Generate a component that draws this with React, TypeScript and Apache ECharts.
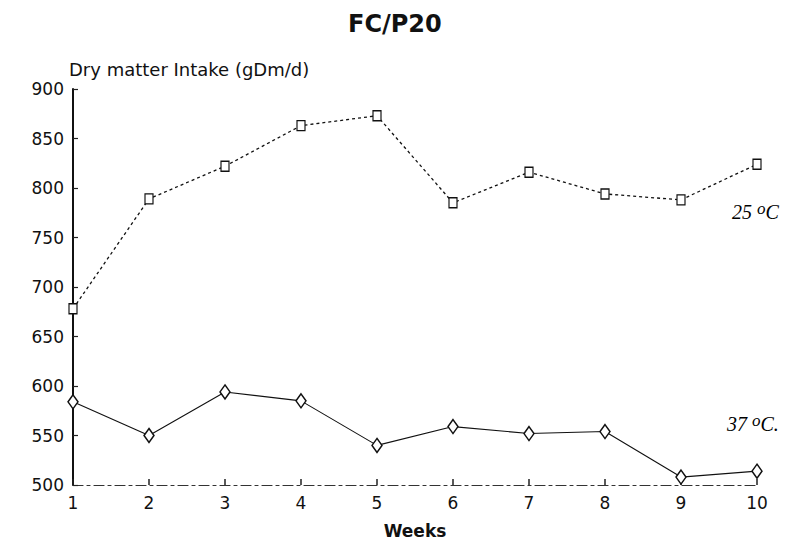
import React, { useEffect, useRef } from "react";
import * as echarts from "echarts";

const weeks = ["1", "2", "3", "4", "5", "6", "7", "8", "9", "10"];
const intake25 = [678, 789, 822, 863, 873, 785, 816, 794, 788, 824];
const intake37 = [584, 550, 594, 585, 540, 559, 552, 554, 508, 514];
const yTicks = { min: 500, max: 900, interval: 50 };

export default function App() {
  const ref = useRef<HTMLDivElement>(null);
  useEffect(() => {
    if (!ref.current) return;
    const chart = echarts.init(ref.current, null, { renderer: "svg" });
    const labelRich = {
      a: { font: "italic 20px 'Liberation Serif', serif", color: "#111" },
      s: { font: "italic 17px 'Liberation Serif', serif", color: "#111", verticalAlign: "top", padding: [0, 0, 6, 0] },
    };
    chart.setOption({
      animation: false,
      backgroundColor: "#fff",
      textStyle: { fontFamily: "DejaVu Sans, sans-serif" },
      title: {
        text: "FC/P20",
        left: 343,
        top: 7,
        textStyle: { fontSize: 24, fontWeight: "bold", color: "#111", fontFamily: "DejaVu Sans, sans-serif" },
      },
      grid: { left: 73, right: 47, top: 89, bottom: 61 },
      xAxis: {
        type: "category",
        data: weeks,
        boundaryGap: false,
        name: "Weeks",
        nameLocation: "middle",
        nameGap: 37,
        nameTextStyle: { fontSize: 17, color: "#111", fontWeight: 600 },
        axisLine: { lineStyle: { color: "#333", width: 1.2, type: [10, 4, 3, 4] } },
        axisTick: { inside: true, length: 6, lineStyle: { color: "#222", width: 1.5 } },
        axisLabel: { fontSize: 17, color: "#111", margin: 9 },
        splitLine: { show: false },
      },
      yAxis: {
        type: "value",
        min: yTicks.min,
        max: yTicks.max,
        interval: yTicks.interval,
        name: "Dry matter Intake (gDm/d)",
        nameLocation: "end",
        nameGap: 11,
        nameTextStyle: { fontSize: 18, color: "#111", align: "left", padding: [0, 0, 0, -4] },
        axisLine: { show: true, lineStyle: { color: "#111", width: 2 } },
        axisTick: { show: true, inside: true, length: 5, lineStyle: { color: "#222", width: 1.2 } },
        axisLabel: { fontSize: 17, color: "#111", margin: 9 },
        splitLine: { show: false },
      },
      series: [
        {
          name: "25 oC",
          type: "line",
          data: intake25,
          symbol: "rect",
          symbolSize: [8, 10],
          itemStyle: { color: "#fff", borderColor: "#111", borderWidth: 1.3 },
          lineStyle: { color: "#111", width: 1.3, type: [3, 3] },
        },
        {
          name: "37 oC",
          type: "line",
          data: intake37,
          symbol: "diamond",
          symbolSize: [10, 14],
          itemStyle: { color: "#fff", borderColor: "#111", borderWidth: 1.5 },
          lineStyle: { color: "#111", width: 1.1 },
        },
      ],
      graphic: [
        {
          type: "text",
          left: 732,
          top: 200,
          style: { text: "{a|25 }{s|o}{a|C}", rich: labelRich },
        },
        {
          type: "text",
          left: 727,
          top: 412,
          style: { text: "{a|37 }{s|o}{a|C.}", rich: labelRich },
        },
      ],
    });
    return () => chart.dispose();
  }, []);
  return <div ref={ref} style={{ width: 804, height: 546, margin: -8 }} />;
}
